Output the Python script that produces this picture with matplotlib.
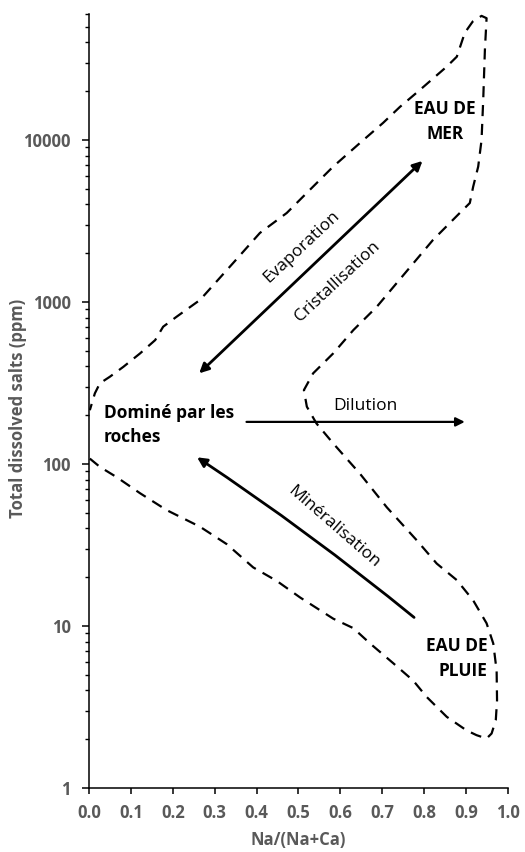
import matplotlib
matplotlib.use('Agg')
import matplotlib.pyplot as plt
from matplotlib.ticker import LogLocator, FixedLocator, NullFormatter

plt.rcParams['font.family'] = ['Open Sans', 'DejaVu Sans']

# boundary of the Gibbs envelope (dashed)
env_x = [0.002, 0.026, 0.066, 0.122, 0.185, 0.265, 0.329, 0.392, 0.448, 0.504,
         0.583, 0.631, 0.671, 0.726, 0.774, 0.806, 0.854, 0.901, 0.925, 0.949,
         0.961, 0.971, 0.974, 0.973, 0.965, 0.949, 0.917, 0.878, 0.830, 0.782,
         0.711, 0.647, 0.583, 0.543, 0.520, 0.513, 0.535, 0.583, 0.631, 0.687,
         0.734, 0.821, 0.885, 0.909, 0.917, 0.929, 0.937, 0.941, 0.945, 0.949,
         0.937, 0.916, 0.897, 0.878, 0.854, 0.790, 0.742, 0.702, 0.647, 0.582,
         0.527, 0.472, 0.408, 0.344, 0.265, 0.209, 0.177, 0.158, 0.122, 0.082,
         0.050, 0.026, 0.014, 0.002]
env_y = [108, 96, 83, 66, 52, 41, 32, 23, 19, 15,
         11.1, 9.7, 7.8, 5.9, 4.6, 3.65, 2.75, 2.27, 2.12, 2.02,
         2.17, 2.62, 3.48, 5.3, 7.8, 10.4, 14.4, 19.2, 24.3, 33.9,
         54, 87, 134, 178, 226, 286, 363, 482, 671, 935,
         1305, 2415, 3545, 4085, 5150, 6850, 10000, 17700, 36000, 56500,
         58400, 53900, 45900, 32700, 28400, 20400, 16000, 12760, 9600, 6820,
         4920, 3545, 2670, 1740, 1030, 811, 704, 582, 482, 398,
         346, 315, 273, 215]

# process arrows: (start, end)
evap_arrow = [(0.263, 363), (0.796, 7430)]
dilution_arrow = [(0.376, 182), (0.897, 182)]
mineral_arrow = [(0.776, 11.3), (0.258, 110)]

x_ticks = [0.0, 0.1, 0.2, 0.3, 0.4, 0.5, 0.6, 0.7, 0.8, 0.9, 1.0]
y_ticks = [1, 10, 100, 1000, 10000]

fig = plt.figure(figsize=(5.25, 8.52), dpi=100)
ax = fig.add_axes([0.1695, 0.0751, 0.798, 0.9085])

ax.plot(env_x, env_y, color='black', lw=1.6, linestyle=(0, (5, 3.5)))

ax.annotate('', xy=evap_arrow[1], xytext=evap_arrow[0],
            arrowprops=dict(arrowstyle='<|-|>', lw=2.0, color='black',
                            mutation_scale=14, shrinkA=0, shrinkB=0))
ax.annotate('', xy=dilution_arrow[1], xytext=dilution_arrow[0],
            arrowprops=dict(arrowstyle='-|>', lw=1.6, color='black',
                            mutation_scale=13, shrinkA=0, shrinkB=0))
ax.annotate('', xy=mineral_arrow[1], xytext=mineral_arrow[0],
            arrowprops=dict(arrowstyle='-|>', lw=2.0, color='black',
                            mutation_scale=14, shrinkA=0, shrinkB=0,
                            connectionstyle='arc3,rad=0.025'))

ax.text(0.850, 13000, 'EAU DE\nMER', ha='center', va='center', fontsize=12.5,
        fontweight='bold', linespacing=1.45)
ax.text(0.951, 6.3, 'EAU DE\nPLUIE', ha='right', va='center', fontsize=12.5,
        fontweight='bold', linespacing=1.45, multialignment='right')
ax.text(0.036, 174, 'Dominé par les\nroches', ha='left', va='center', fontsize=12.5,
        fontweight='bold', linespacing=1.45)
ax.text(0.508, 2197, 'Evaporation', ha='center', va='center', fontsize=12.5, rotation=43)
ax.text(0.594, 1330, 'Cristallisation', ha='center', va='center', fontsize=12.5, rotation=43)
ax.text(0.659, 228, 'Dilution', ha='center', va='center', fontsize=12.5)
ax.text(0.583, 41, 'Minéralisation', ha='center', va='center', fontsize=12.5, rotation=-41)

ax.set_yscale('log')
ax.set_xlim(0, 1)
ax.set_ylim(1, 60000)
ax.xaxis.set_major_locator(FixedLocator(x_ticks))
ax.set_xticklabels([f'{v:.1f}' for v in x_ticks])
ax.yaxis.set_major_locator(FixedLocator(y_ticks))
ax.set_yticklabels([str(v) for v in y_ticks])
ax.yaxis.set_minor_locator(LogLocator(base=10, subs=range(2, 10)))
ax.yaxis.set_minor_formatter(NullFormatter())

for s in ['top', 'right']:
    ax.spines[s].set_visible(False)
for s in ['left', 'bottom']:
    ax.spines[s].set_linewidth(1.1)

ax.tick_params(axis='y', which='major', length=5, width=1.1, pad=8,
               labelsize=12, labelcolor='#595959')
ax.tick_params(axis='y', which='minor', length=3, width=1.0)
ax.tick_params(axis='x', which='major', length=4.5, width=1.1, pad=7,
               labelsize=12, labelcolor='#595959')
for lab in ax.get_xticklabels() + ax.get_yticklabels():
    lab.set_fontweight('bold')

ax.set_xlabel('Na/(Na+Ca)', fontsize=12, fontweight='bold', color='#595959')
ax.set_ylabel('Total dissolved salts (ppm)', fontsize=12, fontweight='bold', color='#595959')
ax.xaxis.set_label_coords(0.5, -0.056)
ax.yaxis.set_label_coords(-0.148, 0.49)

fig.savefig('out.png', dpi=100)
